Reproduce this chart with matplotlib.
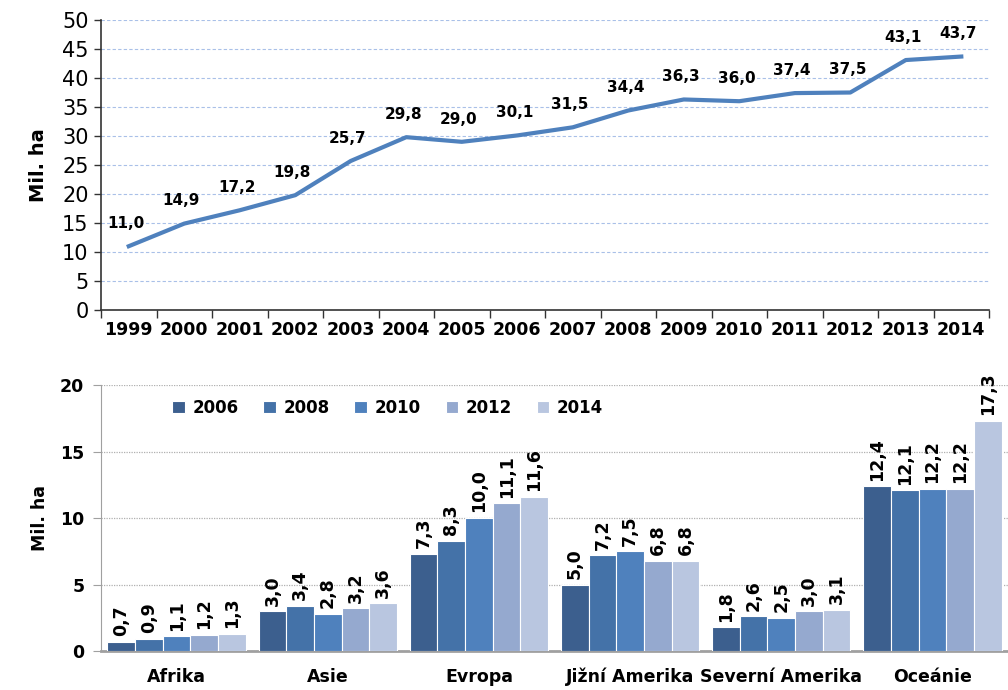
import matplotlib
matplotlib.use("Agg")
import matplotlib.pyplot as plt
import numpy as np

# top chart: total area per year
years = ["1999", "2000", "2001", "2002", "2003", "2004", "2005", "2006",
         "2007", "2008", "2009", "2010", "2011", "2012", "2013", "2014"]
area = [11.0, 14.9, 17.2, 19.8, 25.7, 29.8, 29.0, 30.1,
        31.5, 34.4, 36.3, 36.0, 37.4, 37.5, 43.1, 43.7]

# bottom chart: area per continent
regions = ["Afrika", "Asie", "Evropa", "Jižní Amerika", "Severní Amerika", "Oceánie"]
bar_years = ["2006", "2008", "2010", "2012", "2014"]
region_values = {
    "2006": [0.7, 3.0, 7.3, 5.0, 1.8, 12.4],
    "2008": [0.9, 3.4, 8.3, 7.2, 2.6, 12.1],
    "2010": [1.1, 2.8, 10.0, 7.5, 2.5, 12.2],
    "2012": [1.2, 3.2, 11.1, 6.8, 3.0, 12.2],
    "2014": [1.3, 3.6, 11.6, 6.8, 3.1, 17.3],
}
bar_colors = ["#3C5F8E", "#4472A8", "#4F81BD", "#95A9CF", "#B9C6E0"]


def fmt(v):
    return f"{v:.1f}".replace(".", ",")


plt.rcParams["font.family"] = ["DejaVu Sans"]
fig = plt.figure(figsize=(10.08, 6.9), dpi=100)

# ---- top line chart ----
ax1 = fig.add_axes([0.1002, 0.5507, 0.8810, 0.4203])
x = np.arange(len(years))
ax1.plot(x, area, color="#4F81BD", lw=3, solid_joinstyle="round")
for xi, v in zip(x, area):
    ax1.annotate(fmt(v), (xi, v), xytext=(-2, 11), textcoords="offset points",
                 ha="center", va="bottom", fontsize=11, fontweight="bold")
ax1.set_xlim(-0.5, len(years) - 0.5)
ax1.set_ylim(0, 50)
ax1.set_yticks(np.arange(0, 51, 5))
ax1.set_xticks(np.arange(-0.5, len(years)), labels=[])
ax1.set_xticks(x, labels=years, minor=True)
ax1.tick_params(axis="x", which="major", length=6, width=1, color="#333333")
ax1.tick_params(axis="x", which="minor", length=0, pad=8)
ax1.tick_params(axis="y", length=5, width=1, color="#333333", pad=4)
for lab in ax1.get_xticklabels(minor=True):
    lab.set_fontsize(12.5)
    lab.set_fontweight("bold")
for lab in ax1.get_yticklabels():
    lab.set_fontsize(15)
ax1.grid(axis="y", color="#A9C0E8", ls=(0, (3, 2)), lw=0.8)
ax1.set_axisbelow(True)
for s in ["top", "right"]:
    ax1.spines[s].set_visible(False)
for s in ["left", "bottom"]:
    ax1.spines[s].set_color("#333333")
    ax1.spines[s].set_linewidth(1.2)
ax1.set_ylabel("Mil. ha", fontsize=14, fontweight="bold", labelpad=10)

# ---- bottom bar chart ----
ax2 = fig.add_axes([0.1002, 0.0565, 0.8998, 0.3855])
xr = np.arange(len(regions))
bw = 0.183
for k, yr in enumerate(bar_years):
    pos = xr + (k - 2) * bw
    vals = region_values[yr]
    ax2.bar(pos, vals, width=bw, color=bar_colors[k], edgecolor="white",
            linewidth=0.8, label=yr, zorder=3)
    for p, v in zip(pos, vals):
        ax2.annotate(fmt(v), (p, v), xytext=(0, 4), textcoords="offset points",
                     ha="center", va="bottom", rotation=90, fontsize=12.5,
                     fontweight="bold")
ax2.set_xlim(-0.5, len(regions) - 0.5)
ax2.set_ylim(0, 20)
ax2.set_yticks([0, 5, 10, 15, 20])
ax2.set_xticks(xr, labels=regions)
ax2.tick_params(axis="x", length=0, pad=12)
ax2.tick_params(axis="y", length=6, color="#A0A0A0", pad=6)
for lab in ax2.get_xticklabels() + ax2.get_yticklabels():
    lab.set_fontsize(12.5)
    lab.set_fontweight("bold")
ax2.grid(axis="y", color="#B0B0B0", ls=(0, (1, 1)), lw=0.9, zorder=0)
for s in ["top", "right"]:
    ax2.spines[s].set_visible(False)
ax2.spines["left"].set_color("#A0A0A0")
ax2.spines["bottom"].set_color("#A0A0A0")
ax2.spines["bottom"].set_linewidth(2)
ax2.set_ylabel("Mil. ha", fontsize=12.5, fontweight="bold", labelpad=8)
leg = ax2.legend(ncol=5, loc="center", bbox_to_anchor=(0.316, 0.913), frameon=False,
                 handlelength=0.75, handleheight=0.75, handletextpad=0.45,
                 columnspacing=1.5, prop={"weight": "bold", "size": 12})

fig.savefig("out.png", dpi=100)
